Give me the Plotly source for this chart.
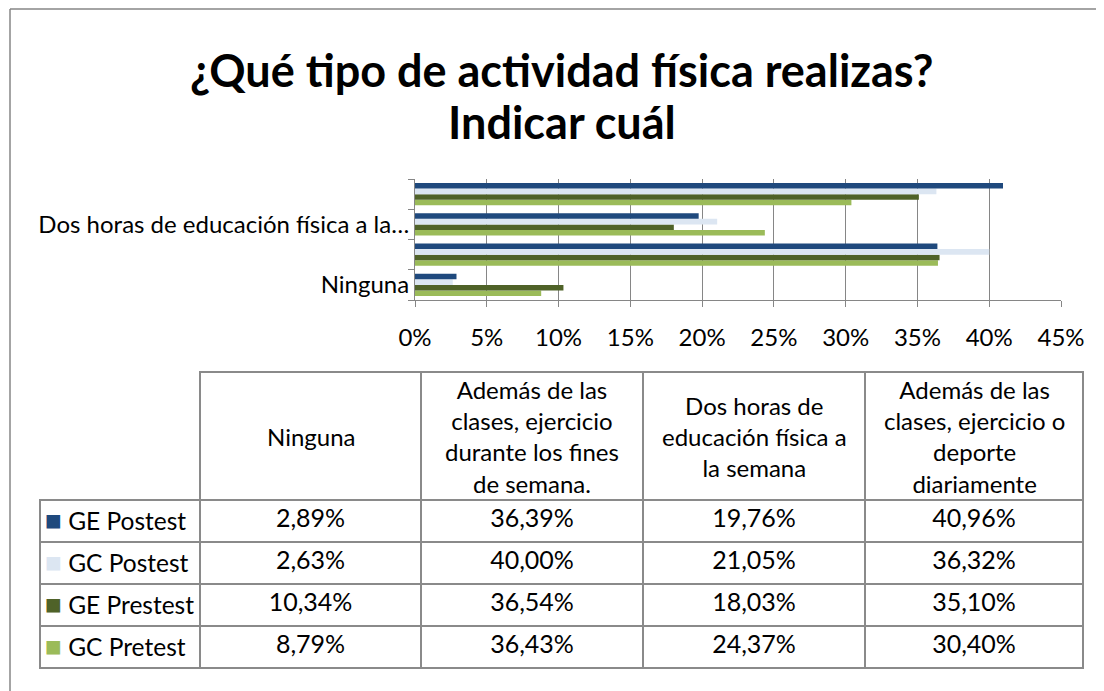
import plotly.graph_objects as go

categories = [
    "Ninguna",
    "Además de las clases, ejercicio durante los fines de semana.",
    "Dos horas de educación física a la semana",
    "Además de las clases, ejercicio o deporte diariamente",
]
axis_labels = ["Ninguna", "", "Dos horas de educación física a la…", ""]
header_labels = [
    "Ninguna",
    "Además de las<br>clases, ejercicio<br>durante los fines<br>de semana.",
    "Dos horas de<br>educación física a<br>la semana",
    "Además de las<br>clases, ejercicio o<br>deporte<br>diariamente",
]
title_lines = ["¿Qué tipo de actividad física realizas?", "Indicar cuál"]
series_names = ["GE Postest", "GC Postest", "GE Prestest", "GC Pretest"]
ge_postest = [2.89, 36.39, 19.76, 40.96]
gc_postest = [2.63, 40.00, 21.05, 36.32]
ge_prestest = [10.34, 36.54, 18.03, 35.10]
gc_pretest = [8.79, 36.43, 24.37, 30.40]
colors = ["#1F497D", "#DCE6F2", "#4F6228", "#9BBB59"]

series_values = [ge_postest, gc_postest, ge_prestest, gc_pretest]

W, H = 1104, 691
OFF = 8  # page body margin
FONT = "Lato"
GRID = "#868686"
TLINE = "#8a8a8a"


def fx(x):
    return (x - OFF) / W


def fy(y):
    return 1 - (y - OFF) / H


# table geometry (pixels)
T_LEFT, T_TOP = 40, 372
COLW = [160, 221, 222, 222, 218]
HEAD_H, ROW_H = 128, 42
T_BOTTOM = T_TOP + HEAD_H + ROW_H * len(series_names) + 3

fig = go.Figure()

# add in reverse so that GE Postest sits on top of each group
for name, vals, col in reversed(list(zip(series_names, series_values, colors))):
    fig.add_trace(go.Bar(
        y=categories, x=[v / 100 for v in vals], name=name, orientation="h",
        marker=dict(color=col, line=dict(width=0)), showlegend=False,
    ))


def fmt(v):
    return f"{v:.2f}".replace(".", ",") + "%"


columns = [[""] * len(series_names)] + [[fmt(s[i]) for s in series_values] for i in range(len(categories))]

fig.add_trace(go.Table(
    domain=dict(x=[fx(T_LEFT), fx(T_LEFT + sum(COLW))], y=[fy(T_BOTTOM), fy(T_TOP)]),
    columnwidth=COLW,
    header=dict(
        values=[""] * 5,
        height=HEAD_H,
        fill=dict(color="rgba(0,0,0,0)"),
        line=dict(color=["rgba(0,0,0,0)"] + [TLINE] * 4, width=2),
        font=dict(family=FONT, size=25, color="black"),
    ),
    cells=dict(
        values=columns,
        height=ROW_H,
        align="center",
        fill=dict(color="rgba(0,0,0,0)"),
        line=dict(color=TLINE, width=2),
        font=dict(family=FONT, size=25, color="black"),
    ),
))

annotations = []
x_edges = [T_LEFT]
for w in COLW:
    x_edges.append(x_edges[-1] + w)
for i, lab in enumerate(header_labels):
    xc = (x_edges[i + 1] + x_edges[i + 2]) / 2
    annotations.append(dict(
        text=lab, x=fx(xc), y=fy(T_TOP + HEAD_H / 2), xref="paper", yref="paper",
        xanchor="center", yanchor="middle", align="center", showarrow=False,
        font=dict(family=FONT, size=24, color="black"),
    ))
for j, (name, col) in enumerate(zip(series_names, colors)):
    yc = T_TOP + HEAD_H + ROW_H * (j + 0.5) - 2
    annotations.append(dict(
        text=f"<span style='color:{col};font-size:28px'>■</span> {name}",
        x=fx(T_LEFT + 3), y=fy(yc), xref="paper", yref="paper",
        xanchor="left", yanchor="middle", align="left", showarrow=False,
        font=dict(family=FONT, size=24.5, color="black"),
    ))
# two title lines
for k, (line, yc) in enumerate(zip(title_lines, [70, 122])):
    annotations.append(dict(
        text=f"<b>{line}</b>", x=fx(562), y=fy(yc), xref="paper", yref="paper",
        xanchor="center", yanchor="middle", showarrow=False,
        font=dict(family=FONT, size=45, color="black"),
    ))

fig.update_layout(
    width=W, height=H,
    margin=dict(l=0, r=0, t=0, b=0, pad=0),
    paper_bgcolor="white", plot_bgcolor="white",
    barmode="group", bargap=0.27, bargroupgap=0,
    font=dict(family=FONT, size=24, color="black"),
    xaxis=dict(
        domain=[fx(415), fx(1061)], range=[0, 0.45], dtick=0.05, tick0=0,
        tickformat=".0%", showgrid=True, gridcolor=GRID, gridwidth=1,
        showline=True, linecolor=GRID, linewidth=1, automargin=False,
        ticks="outside", ticklen=6, tickcolor=GRID, zeroline=False,
        ticklabelstandoff=10,
        tickfont=dict(family=FONT, size=24, color="black"),
    ),
    yaxis=dict(
        domain=[fy(300), fy(179)], type="category",
        categoryorder="array", categoryarray=categories,
        tickmode="array", tickvals=categories, ticktext=axis_labels,
        tickson="boundaries", ticks="outside", ticklen=6, tickcolor=GRID,
        showline=True, linecolor=GRID, linewidth=1, showgrid=False, automargin=False,
        tickfont=dict(family=FONT, size=24, color="black"),
    ),
    annotations=annotations,
    shapes=[
        dict(type="line", xref="paper", yref="paper", x0=fx(10), x1=1, y0=fy(9), y1=fy(9),
             line=dict(color=GRID, width=1.5)),
        dict(type="line", xref="paper", yref="paper", x0=fx(10), x1=fx(10), y0=fy(9), y1=0,
             line=dict(color=GRID, width=1.5)),
    ],
)

fig.write_html("out.html")
